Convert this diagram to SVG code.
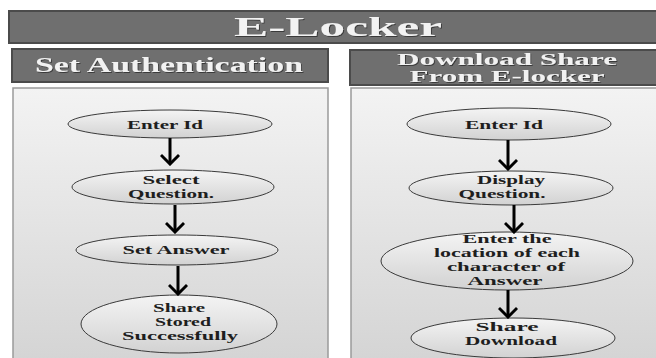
<svg xmlns="http://www.w3.org/2000/svg" width="656" height="358" viewBox="0 0 656 358">
  <defs>
    <linearGradient id="panelFill" x1="0" y1="0" x2="0" y2="1">
      <stop offset="0" stop-color="#f3f3f3"/>
      <stop offset="1" stop-color="#d4d4d4"/>
    </linearGradient>
    <linearGradient id="nodeFill" x1="0" y1="0" x2="0" y2="1">
      <stop offset="0" stop-color="#f4f4f4"/>
      <stop offset="1" stop-color="#d2d2d2"/>
    </linearGradient>
    <filter id="txtShadow" x="-5%" y="-20%" width="110%" height="150%">
      <feDropShadow dx="1" dy="1" stdDeviation="0.6" flood-color="#222" flood-opacity="0.7"/>
    </filter>
    <marker id="chev" markerUnits="userSpaceOnUse" viewBox="-11 -10 13 20" refX="0" refY="0" markerWidth="13" markerHeight="20" orient="auto">
      <path d="M-8,-8 L0,0 L-8,8" fill="none" stroke="#000" stroke-width="3" stroke-linecap="square"/>
    </marker>
    <style>
      .bar { fill: #6f6f6f; stroke: #4b4b4b; stroke-width: 2; }
      .panel { fill: url(#panelFill); stroke: #9a9a9a; stroke-width: 1.5; }
      .hdr { font-family: "Liberation Serif", "DejaVu Serif", serif; font-weight: bold; fill: #f2f2f2; text-anchor: middle; filter: url(#txtShadow); }
      .node ellipse { fill: url(#nodeFill); stroke: #3a3a3a; stroke-width: 1; }
      .node text { font-family: "Liberation Serif", "DejaVu Serif", serif; font-weight: bold; font-size: 12px; fill: #1e1e1e; text-anchor: middle; }
      .arrow { fill: none; stroke: #000; stroke-width: 3; marker-end: url(#chev); }
    </style>
  </defs>

  <rect width="656" height="358" fill="#ffffff"/>

  <!-- headers -->
  <g id="title">
    <rect class="bar" x="9" y="11" width="660" height="32"/>
    <text class="hdr" x="338" y="36" font-size="27" textLength="208" lengthAdjust="spacingAndGlyphs">E-Locker</text>
  </g>
  <g id="hdr-set-auth">
    <rect class="bar" x="12" y="49" width="316" height="33"/>
    <text class="hdr" x="169" y="72" font-size="20" textLength="268" lengthAdjust="spacingAndGlyphs">Set Authentication</text>
  </g>
  <g id="hdr-download">
    <rect class="bar" x="350" y="50" width="320" height="35"/>
    <text class="hdr" x="507" y="65" font-size="16" textLength="220" lengthAdjust="spacingAndGlyphs">Download Share</text>
    <text class="hdr" x="507" y="82" font-size="16" textLength="195" lengthAdjust="spacingAndGlyphs">From E-locker</text>
  </g>

  <!-- panels -->
  <rect class="panel" x="13" y="88" width="315" height="275"/>
  <rect class="panel" x="351" y="88" width="320" height="275"/>

  <!-- left flow -->
  <g id="n-enter-id-1" class="node">
    <ellipse cx="170" cy="124" rx="102" ry="14"/>
    <text x="165" y="129" textLength="76" lengthAdjust="spacingAndGlyphs">Enter Id</text>
  </g>
  <g id="n-select-question" class="node">
    <ellipse cx="173" cy="187" rx="101" ry="17"/>
    <text x="171" y="184" textLength="57" lengthAdjust="spacingAndGlyphs">Select</text>
    <text x="171" y="198" textLength="86" lengthAdjust="spacingAndGlyphs">Question.</text>
  </g>
  <g id="n-set-answer" class="node">
    <ellipse cx="177" cy="250" rx="101" ry="15"/>
    <text x="176" y="254" textLength="107" lengthAdjust="spacingAndGlyphs">Set Answer</text>
  </g>
  <g id="n-share-stored" class="node">
    <ellipse cx="179" cy="324" rx="98" ry="29"/>
    <text x="179" y="312" textLength="52" lengthAdjust="spacingAndGlyphs">Share</text>
    <text x="183" y="326" textLength="56" lengthAdjust="spacingAndGlyphs">Stored</text>
    <text x="180" y="340" textLength="116" lengthAdjust="spacingAndGlyphs">Successfully</text>
  </g>

  <!-- right flow -->
  <g id="n-enter-id-2" class="node">
    <ellipse cx="509" cy="124" rx="102" ry="16"/>
    <text x="504" y="129" textLength="78" lengthAdjust="spacingAndGlyphs">Enter Id</text>
  </g>
  <g id="n-display-question" class="node">
    <ellipse cx="511" cy="188" rx="102" ry="17"/>
    <text x="511" y="184" textLength="68" lengthAdjust="spacingAndGlyphs">Display</text>
    <text x="502" y="198" textLength="87" lengthAdjust="spacingAndGlyphs">Question.</text>
  </g>
  <g id="n-enter-location" class="node">
    <ellipse cx="507" cy="261" rx="126" ry="29"/>
    <text x="507" y="243" textLength="89" lengthAdjust="spacingAndGlyphs">Enter the</text>
    <text x="507" y="257" textLength="146" lengthAdjust="spacingAndGlyphs">location of each</text>
    <text x="506" y="271" textLength="118" lengthAdjust="spacingAndGlyphs">character of</text>
    <text x="505" y="285" textLength="75" lengthAdjust="spacingAndGlyphs">Answer</text>
  </g>
  <g id="n-share-download" class="node">
    <ellipse cx="513" cy="338" rx="102" ry="20"/>
    <text x="507" y="331" textLength="63" lengthAdjust="spacingAndGlyphs">Share</text>
    <text x="511" y="345" textLength="92" lengthAdjust="spacingAndGlyphs">Download</text>
  </g>

  <!-- connectors -->
  <g id="connectors">
    <path class="arrow" d="M170,138 V164"/>
    <path class="arrow" d="M175,205 V232"/>
    <path class="arrow" d="M178,266 V294"/>
    <path class="arrow" d="M508,140 V169"/>
    <path class="arrow" d="M514,205 V232"/>
    <path class="arrow" d="M508,290 V317"/>
  </g>
</svg>
